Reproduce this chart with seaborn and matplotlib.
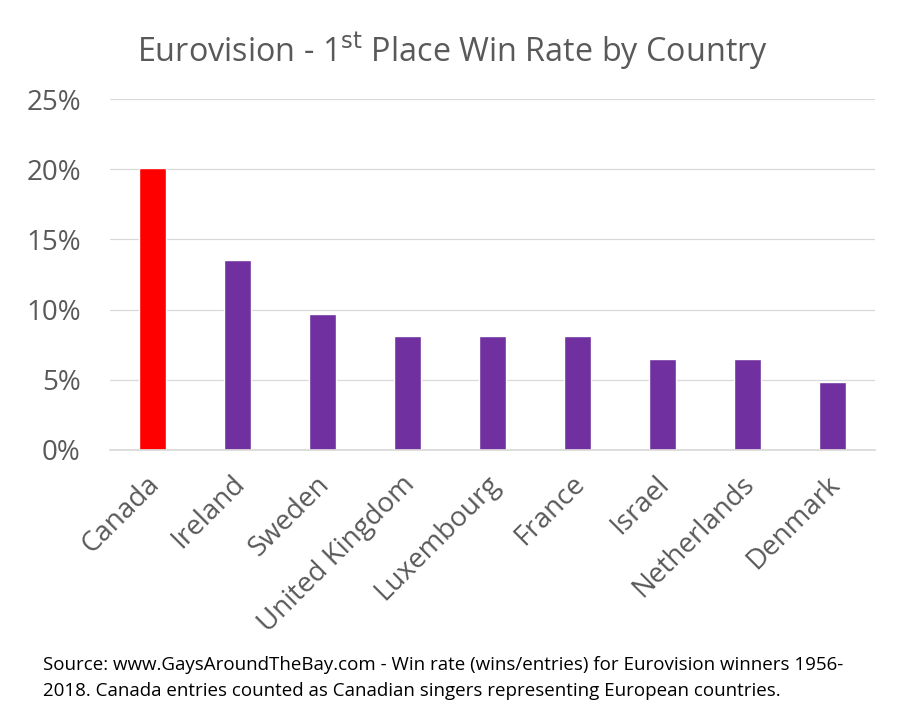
import matplotlib
matplotlib.use("Agg")
import matplotlib.pyplot as plt
import matplotlib.transforms as mtrans
import seaborn as sns
import pandas as pd

countries = ["Canada", "Ireland", "Sweden", "United Kingdom", "Luxembourg", "France", "Israel", "Netherlands", "Denmark"]
win_rate = [20.05, 13.5, 9.7, 8.1, 8.1, 8.1, 6.45, 6.45, 4.85]
bar_colors = ["#FF0000"] + ["#7030A0"] * 8
y_ticks = [0, 5, 10, 15, 20, 25]

sns.set_theme(style="white")
plt.rcParams['font.family'] = ['Open Sans', 'DejaVu Sans']
df = pd.DataFrame({"country": countries, "rate": win_rate})

fig = plt.figure(figsize=(9.08, 7.2), dpi=100)
ax = fig.add_axes([110/908, 1-450/720, (875-110)/908, (450-99)/720])
sns.barplot(data=df, x="country", y="rate", hue="country", palette=bar_colors, legend=False, width=0.31, ax=ax, saturation=1)
ax.set_xlim(-0.5, 8.5)
ax.set_ylim(0, 25)
ax.set_yticks(y_ticks)
ax.set_yticklabels([f"{v}%" for v in y_ticks], fontsize=20, color="#595959")
ax.tick_params(axis='y', length=0, pad=21)
ax.tick_params(axis='x', length=0, pad=8)
ax.set_xticks(range(len(countries)))
ax.set_xticklabels(countries, rotation=45, ha='right', rotation_mode='anchor', fontsize=20, color="#595959")
offset = mtrans.ScaledTranslation(-7/100, -9/100, fig.dpi_scale_trans)
for lab in ax.get_xticklabels():
    lab.set_transform(lab.get_transform() + offset)
ax.set_xlabel(""); ax.set_ylabel("")
ax.yaxis.grid(True, color="#D9D9D9", lw=0.9)
ax.set_axisbelow(True)
for s in ["top", "left", "right"]:
    ax.spines[s].set_visible(False)
ax.spines["bottom"].set_color("#D9D9D9")
fig.text(453/908, 1-51/720, "Eurovision - 1$^{\\mathrm{st}}$ Place Win Rate by Country", ha='center', va='center', fontsize=23.3, color="#595959")
fig.text(43/908, 1-665/720, "Source: www.GaysAroundTheBay.com - Win rate (wins/entries) for Eurovision winners 1956-", ha='left', va='center', fontsize=13.5, color="black")
fig.text(43/908, 1-691/720, "2018. Canada entries counted as Canadian singers representing European countries.", ha='left', va='center', fontsize=13.5, color="black")
fig.savefig("out.png", dpi=100, facecolor="white")
